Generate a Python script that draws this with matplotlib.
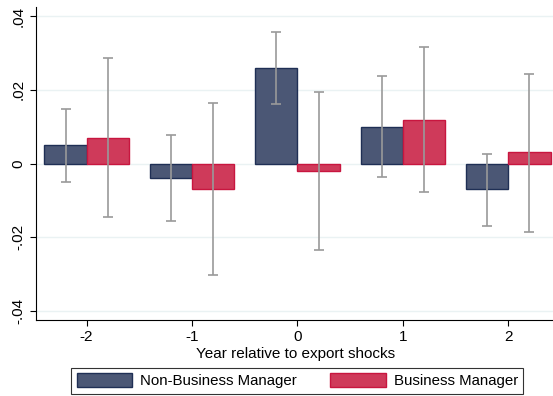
import matplotlib.pyplot as plt
import numpy as np
from matplotlib.ticker import FuncFormatter

plt.rcParams['font.family'] = ['Liberation Sans', 'DejaVu Sans']

years = [-2, -1, 0, 1, 2]
nonbiz = [0.005, -0.004, 0.0259, 0.0099, -0.0069]
nonbiz_lo = [-0.0049, -0.0157, 0.0161, -0.0037, -0.0168]
nonbiz_hi = [0.0148, 0.0078, 0.0357, 0.0236, 0.0027]
biz = [0.007, -0.007, -0.002, 0.0119, 0.003]
biz_lo = [-0.0145, -0.0303, -0.0234, -0.0076, -0.0185]
biz_hi = [0.0285, 0.0165, 0.0195, 0.0316, 0.0244]
yticks = [-0.04, -0.02, 0, 0.02, 0.04]


def stata_fmt(v, pos):
    if abs(v) < 1e-9:
        return '0'
    s = ('%.2f' % v).replace('0.', '.')
    return s


fig = plt.figure(figsize=(5.53, 3.96), dpi=100)
ax = fig.add_axes([0.0651, 0.192, 0.94, 0.79])

x = np.array(years, dtype=float)
w = 0.4
ax.bar(x - w / 2, nonbiz, width=w, color='#4b5775', edgecolor='#1f2f55', linewidth=1.0,
       label='Non-Business Manager', zorder=2)
ax.bar(x + w / 2, biz, width=w, color='#cf3a5a', edgecolor='#c8163f', linewidth=1.0,
       label='Business Manager', zorder=2)

err_style = dict(fmt='none', ecolor='#9a9a9a', elinewidth=1.2, capsize=3.5, capthick=1.2, zorder=3)
ax.errorbar(x - w / 2, nonbiz,
            yerr=[np.array(nonbiz) - np.array(nonbiz_lo), np.array(nonbiz_hi) - np.array(nonbiz)],
            **err_style)
ax.errorbar(x + w / 2, biz,
            yerr=[np.array(biz) - np.array(biz_lo), np.array(biz_hi) - np.array(biz)],
            **err_style)

ax.set_xlim(-2.48, 2.45)
ax.set_ylim(-0.0424, 0.0424)
ax.set_xticks(years)
ax.set_xticklabels([str(y) for y in years])
ax.set_yticks(yticks)
ax.yaxis.set_major_formatter(FuncFormatter(stata_fmt))
for lab in ax.get_yticklabels():
    lab.set_rotation(90)
    lab.set_va('center')
ax.tick_params(axis='both', labelsize=11, length=4, color='black')
ax.grid(axis='y', color='#eaf2f3', linewidth=1.0, zorder=0)
ax.set_axisbelow(True)
for side in ['top', 'right']:
    ax.spines[side].set_visible(False)
ax.set_xlabel('Year relative to export shocks', fontsize=11, labelpad=2)

leg = ax.legend(loc='upper center', bbox_to_anchor=(0.503, -0.153), ncol=2, frameon=True,
                fancybox=False, edgecolor='black', fontsize=10.8, handlelength=3.7,
                handleheight=1.1, handletextpad=0.55, columnspacing=2.2, borderpad=0.35,
                borderaxespad=0)
leg.get_frame().set_linewidth(0.8)

fig.savefig('out.png', dpi=100)
